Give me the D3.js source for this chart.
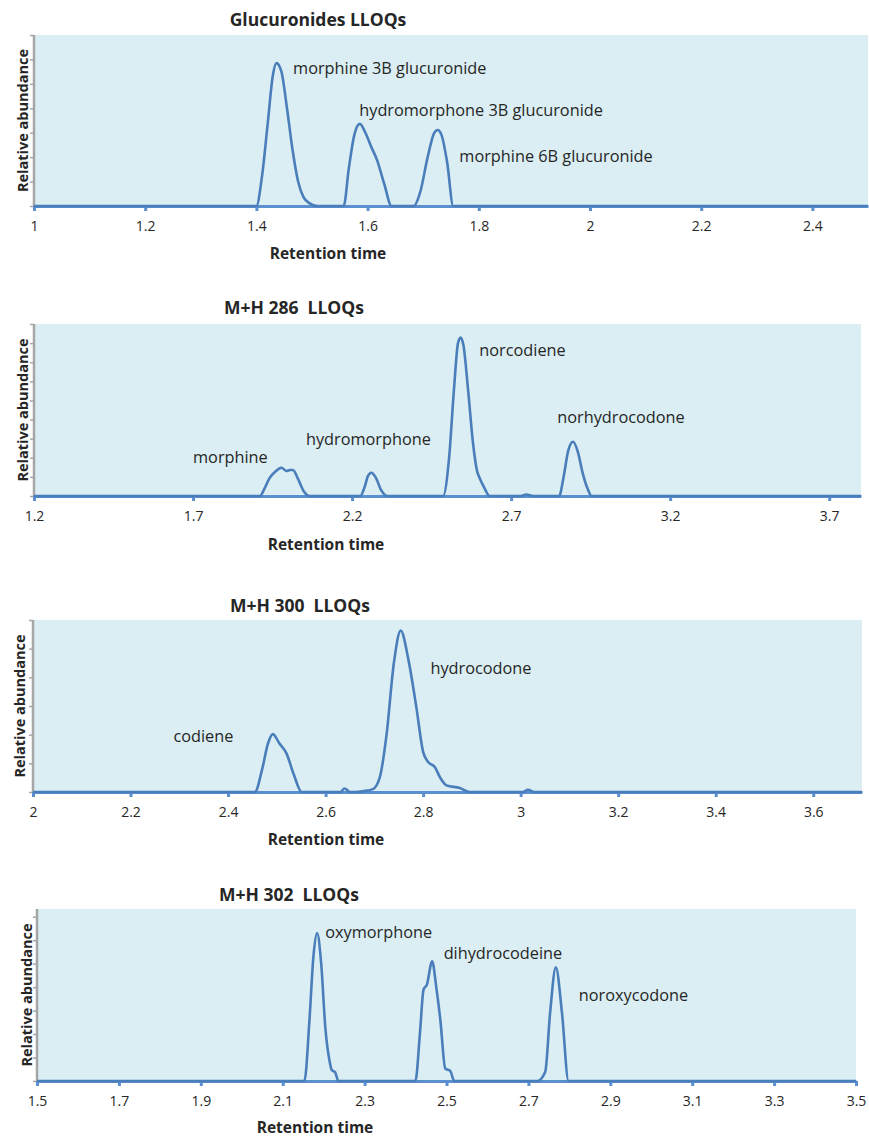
<!DOCTYPE html>
<html lang="en">
<head>
  <meta charset="UTF-8">
  <title>LLOQ chromatograms</title>
  <style>
    body { margin: 0; background: #fff; }
    text { font-family: "Open Sans", "DejaVu Sans", sans-serif; fill: #262626; }
  </style>
</head>
<body>
  <script src="https://d3js.org/d3.v7.min.js"></script>
  <script>
    // ---- data (abundance in y-tick units) ----

    const titles = ["Glucuronides LLOQs", "M+H 286  LLOQs", "M+H 300  LLOQs", "M+H 302  LLOQs"];

    // x ranges and tick labels
    const xDomains = [[1, 2.5], [1.2, 3.8], [2, 3.7], [1.5, 3.5]];
    const xTicks = [
      [1, 1.2, 1.4, 1.6, 1.8, 2, 2.2, 2.4],
      [1.2, 1.7, 2.2, 2.7, 3.2, 3.7],
      [2, 2.2, 2.4, 2.6, 2.8, 3, 3.2, 3.4, 3.6],
      [1.5, 1.7, 1.9, 2.1, 2.3, 2.5, 2.7, 2.9, 3.1, 3.3, 3.5]
    ];
    const yMax = [7, 9, 6, 7.33];
    const yTickCount = [7, 9, 6, 7];

    // panel 1: glucuronides
    const gluTime = [1.40, 1.41, 1.42, 1.43, 1.436, 1.445, 1.455, 1.465, 1.475, 1.485, 1.495, 1.51,
      1.557, 1.566, 1.576, 1.586, 1.596, 1.607, 1.617, 1.63, 1.643,
      1.683, 1.695, 1.708, 1.72, 1.726, 1.733, 1.743, 1.754];
    const gluAbund = [0, 1.2, 3.3, 5.4, 5.85, 5.5, 4.0, 2.3, 1.0, 0.35, 0.12, 0,
      0, 1.5, 2.9, 3.36, 3.0, 2.4, 1.88, 0.9, 0,
      0, 0.6, 2.0, 3.0, 3.11, 2.9, 1.8, 0];

    // panel 2: M+H 286
    const m286Time = [1.91, 1.925, 1.941, 1.96, 1.978, 1.994, 2.005, 2.014, 2.03, 2.048, 2.067,
      2.226, 2.24, 2.25, 2.261, 2.275, 2.29, 2.312,
      2.486, 2.505, 2.52, 2.533, 2.541, 2.55, 2.565, 2.58, 2.593, 2.601, 2.615, 2.633,
      2.73, 2.748, 2.77,
      2.851, 2.865, 2.88, 2.895, 2.91, 2.925, 2.94, 2.953];
    const m286Abund = [0, 0.4, 0.95, 1.3, 1.48, 1.31, 1.36, 1.36, 0.9, 0.25, 0,
      0, 0.5, 1.05, 1.22, 0.95, 0.35, 0,
      0, 2.0, 5.5, 8.0, 8.29, 7.9, 5.5, 2.8, 1.3, 0.94, 0.45, 0,
      0, 0.08, 0,
      0, 1.0, 2.4, 2.84, 2.3, 1.2, 0.4, 0];

    // panel 3: M+H 300
    const m300Time = [2.455, 2.47, 2.482, 2.492, 2.505, 2.52, 2.535, 2.551,
      2.63, 2.639, 2.65,
      2.66, 2.677, 2.697, 2.711, 2.725, 2.74, 2.754, 2.77, 2.786, 2.8, 2.81, 2.824, 2.835, 2.848, 2.875, 2.896,
      3.005, 3.015, 3.028];
    const m300Abund = [0, 0.8, 1.7, 2.02, 1.7, 1.34, 0.6, 0,
      0, 0.12, 0,
      0, 0.03, 0.1, 0.5, 2.0, 4.5, 5.63, 4.6, 2.97, 1.4, 1.05, 0.87, 0.5, 0.23, 0.14, 0,
      0, 0.08, 0];

    // panel 4: M+H 302
    const m302Time = [2.153, 2.165, 2.175, 2.184, 2.194, 2.204, 2.215, 2.22, 2.228, 2.236,
      2.424, 2.435, 2.444, 2.452, 2.465, 2.475, 2.485, 2.497, 2.509, 2.519,
      2.722, 2.741, 2.753, 2.767, 2.782, 2.798];
    const m302Abund = [0, 2.5, 5.3, 6.3, 5.0, 2.3, 0.8, 0.46, 0.38, 0,
      0, 2.0, 3.9, 4.1, 5.1, 4.0, 2.6, 0.53, 0.43, 0,
      0, 0.38, 2.9, 4.85, 2.9, 0];

    // peak names with the (time, abundance) where each label starts
    const gluNames = ["morphine 3B glucuronide", "hydromorphone 3B glucuronide", "morphine 6B glucuronide"];
    const gluNameAt = [[1.466, 5.65], [1.585, 3.9], [1.765, 2.05]];
    const m286Names = ["morphine", "hydromorphone", "norcodiene", "norhydrocodone"];
    const m286NameAt = [[1.7, 2.0], [2.055, 2.97], [2.6, 7.6], [2.845, 4.1]];
    const m300Names = ["codiene", "hydrocodone"];
    const m300NameAt = [[2.288, 1.95], [2.815, 4.3]];
    const m302Names = ["oxymorphone", "dihydrocodeine", "noroxycodone"];
    const m302NameAt = [[2.204, 6.35], [2.493, 5.45], [2.823, 3.66]];

    const times = [gluTime, m286Time, m300Time, m302Time];
    const abunds = [gluAbund, m286Abund, m300Abund, m302Abund];
    const names = [gluNames, m286Names, m300Names, m302Names];
    const nameAt = [gluNameAt, m286NameAt, m300NameAt, m302NameAt];

    // ---- layout ----
    const W = 869, H = 1139;
    const boxes = [
      { left: 34, right: 868, top: 35, bottom: 206 },
      { left: 34, right: 861, top: 324, bottom: 496 },
      { left: 33, right: 862, top: 620, bottom: 792 },
      { left: 37, right: 856, top: 909, bottom: 1081 }
    ];
    const titlePos = [[318, 26], [294, 314], [300, 612], [289, 901]];
    const xLabelPos = [[328, 259], [326, 550], [326, 845], [315, 1133]];
    const yLabelX = [28, 28, 25, 32];

    const lineColor = "#4a7ebb";

    const svg = d3.select("body").append("svg")
      .attr("width", W)
      .attr("height", H);

    boxes.forEach((b, i) => {
      const x = d3.scaleLinear().domain(xDomains[i]).range([b.left, b.right]);
      const y = d3.scaleLinear().domain([0, yMax[i]]).range([b.bottom, b.top]);
      const g = svg.append("g");

      // plot background
      g.append("rect")
        .attr("x", b.left).attr("y", b.top)
        .attr("width", b.right - b.left).attr("height", b.bottom - b.top)
        .attr("fill", "#daeef3");

      // y axis: grey, unlabeled ticks
      const yAxis = g.append("g")
        .attr("transform", `translate(${b.left},0)`)
        .call(d3.axisLeft(y).tickValues(d3.range(0, yTickCount[i] + 1)).tickSize(4).tickFormat(""));
      yAxis.select(".domain").attr("stroke", "#a6a6a6").attr("stroke-width", 2.5)
        .attr("d", `M0,${b.top}V${b.bottom}`);
      yAxis.selectAll(".tick line").attr("stroke", "#a6a6a6").attr("stroke-width", 1.5);

      // x axis
      const xAxis = g.append("g")
        .attr("transform", `translate(0,${b.bottom})`)
        .call(d3.axisBottom(x).tickValues(xTicks[i]).tickSize(5).tickSizeOuter(0).tickFormat(d3.format("")));
      xAxis.select(".domain").attr("stroke", "#5b8fd0").attr("stroke-width", 3);
      xAxis.selectAll(".tick line").attr("stroke", "#5b8fd0").attr("stroke-width", 3);
      xAxis.selectAll(".tick text")
        .attr("dy", "1.2em")
        .style("font-size", "14px")
        .style("font-family", "'Open Sans', sans-serif")
        .attr("fill", "#262626");

      // series: baseline across the whole window plus the peaks
      const pts = [[xDomains[i][0], 0]]
        .concat(times[i].map((t, k) => [t, abunds[i][k]]))
        .concat([[xDomains[i][1], 0]]);
      const line = d3.line()
        .x(d => x(d[0]))
        .y(d => y(d[1]))
        .curve(d3.curveMonotoneX);
      g.append("path")
        .datum(pts)
        .attr("d", line)
        .attr("fill", "none")
        .attr("stroke", lineColor)
        .attr("stroke-width", 2.6)
        .attr("stroke-linejoin", "round");

      // peak names
      g.selectAll("text.peak")
        .data(names[i])
        .join("text")
        .attr("class", "peak")
        .attr("x", (d, k) => x(nameAt[i][k][0]))
        .attr("y", (d, k) => y(nameAt[i][k][1]))
        .attr("dy", "0.35em")
        .style("font-size", "16.3px")
        .text(d => d);

      // titles
      g.append("text")
        .attr("x", titlePos[i][0])
        .attr("y", titlePos[i][1])
        .attr("text-anchor", "middle")
        .style("white-space", "pre")
        .style("font-size", "17.5px")
        .style("font-weight", "bold")
        .text(titles[i]);

      g.append("text")
        .attr("x", xLabelPos[i][0])
        .attr("y", xLabelPos[i][1])
        .attr("text-anchor", "middle")
        .style("font-size", "15.5px")
        .style("font-weight", "bold")
        .text("Retention time");

      g.append("text")
        .attr("transform", `translate(${yLabelX[i]},${(b.top + b.bottom) / 2}) rotate(-90)`)
        .attr("text-anchor", "middle")
        .style("font-size", "14.5px")
        .style("font-weight", "bold")
        .text("Relative abundance");
    });
  </script>
</body>
</html>
